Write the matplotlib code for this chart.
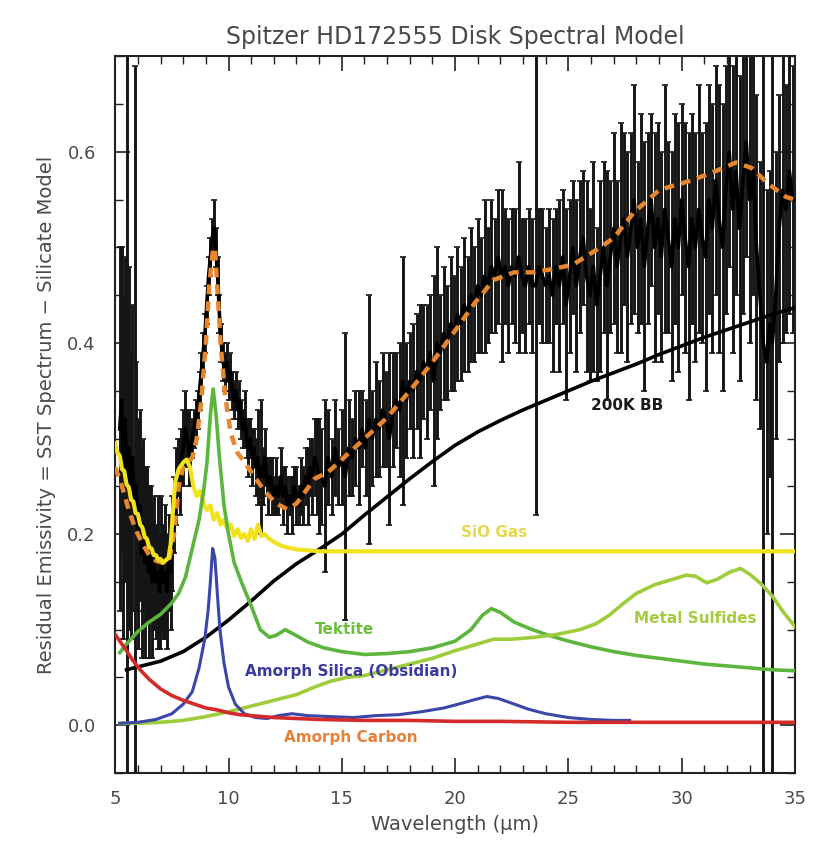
import matplotlib
matplotlib.use("Agg")
import matplotlib.pyplot as plt
from matplotlib.ticker import MultipleLocator, FormatStrFormatter

# ---------------- data: observed residual spectrum ----------------
wl_obs = [5.20, 5.28, 5.36, 5.44, 5.52, 5.60, 5.68, 5.76, 5.88, 5.92,
          6.00, 6.08, 6.16, 6.24, 6.32, 6.40, 6.48, 6.56, 6.64, 6.72,
          6.80, 6.88, 6.96, 7.04, 7.12, 7.20, 7.28, 7.36, 7.44, 7.52,
          7.60, 7.68, 7.76, 7.84, 7.92, 8.00, 8.08, 8.16, 8.24, 8.32,
          8.40, 8.48, 8.56, 8.64, 8.72, 8.80, 8.88, 8.96, 9.04, 9.12,
          9.20, 9.28, 9.36, 9.44, 9.52, 9.60, 9.68, 9.76, 9.84, 9.92,
          10.00, 10.08, 10.16, 10.24, 10.32, 10.40, 10.48, 10.56, 10.64, 10.72,
          10.80, 10.88, 10.96, 11.04, 11.12, 11.20, 11.28, 11.36, 11.44, 11.52,
          11.60, 11.68, 11.76, 11.84, 11.92, 12.00,
          12.1, 12.2, 12.3, 12.4, 12.5, 12.6, 12.7, 12.8, 12.9, 13.0,
          13.1, 13.2, 13.3, 13.4, 13.5, 13.6, 13.7, 13.8, 13.9, 14.0,
          14.10, 14.25, 14.40, 14.55, 14.70, 14.85, 15.00, 15.15, 15.30, 15.45,
          15.60, 15.75, 15.90, 16.05, 16.20, 16.35, 16.50, 16.65, 16.80, 16.95,
          17.10, 17.25, 17.40, 17.55, 17.70, 17.85, 18.00, 18.15, 18.30, 18.45,
          18.60, 18.75, 18.90, 19.05, 19.20, 19.35, 19.50, 19.65, 19.80, 19.95,
          20.10, 20.25, 20.40, 20.55, 20.70, 20.85, 21.00, 21.15, 21.30, 21.45,
          21.60, 21.75, 21.90, 22.05, 22.20, 22.35, 22.50, 22.65, 22.80, 22.95,
          23.10, 23.25, 23.40, 23.55, 23.70, 23.85, 24.00,
          24.15, 24.30, 24.45, 24.60, 24.75, 24.90, 25.05, 25.20, 25.35, 25.50,
          25.65, 25.80, 25.95, 26.10, 26.25, 26.40, 26.55, 26.70, 26.85, 27.00,
          27.15, 27.30, 27.45, 27.60, 27.75, 27.90, 28.05, 28.20, 28.35, 28.50,
          28.65, 28.80, 28.95, 29.10, 29.25, 29.40, 29.55, 29.70, 29.85, 30.00,
          30.15, 30.30, 30.45, 30.60, 30.75, 30.90, 31.05, 31.20, 31.35, 31.50,
          31.65, 31.80, 31.95, 32.10, 32.25, 32.40, 32.55, 32.70, 32.85, 33.00,
          33.15, 33.30, 33.45, 33.60, 33.75, 33.90, 34.00, 34.15, 34.30, 34.45,
          34.60, 34.75, 34.90]
flux_obs = [0.31, 0.34, 0.27, 0.32, 0.25, 0.29, 0.24, 0.28, 0.22, 0.25,
            0.20, 0.23, 0.18, 0.21, 0.17, 0.19, 0.16, 0.18, 0.15, 0.17,
            0.15, 0.16, 0.14, 0.17, 0.15, 0.16, 0.14, 0.17, 0.16, 0.19,
            0.22, 0.25, 0.27, 0.26, 0.28, 0.29, 0.31, 0.30, 0.29, 0.28,
            0.30, 0.31, 0.32, 0.33, 0.35, 0.37, 0.39, 0.41, 0.44, 0.47,
            0.49, 0.51, 0.52, 0.50, 0.47, 0.43, 0.40, 0.38, 0.37, 0.38,
            0.36, 0.37, 0.35, 0.34, 0.35, 0.33, 0.34, 0.32, 0.31, 0.32,
            0.30, 0.29, 0.30, 0.28, 0.29, 0.27, 0.28, 0.26, 0.27, 0.26,
            0.28, 0.26, 0.25, 0.26, 0.25, 0.24,
            0.25, 0.24, 0.26, 0.24, 0.25, 0.23, 0.24, 0.23, 0.25, 0.24,
            0.23, 0.25, 0.24, 0.26, 0.25, 0.27, 0.26, 0.28, 0.27, 0.26,
            0.26, 0.25, 0.28, 0.26, 0.29, 0.27, 0.28, 0.26, 0.29, 0.28,
            0.30, 0.29, 0.31, 0.29, 0.32, 0.30, 0.32, 0.31, 0.33, 0.32,
            0.30, 0.33, 0.34, 0.33, 0.36, 0.34, 0.36, 0.35, 0.37, 0.36,
            0.38, 0.37, 0.39, 0.36, 0.40, 0.39, 0.41, 0.40, 0.42, 0.41,
            0.43, 0.42, 0.44, 0.43, 0.45, 0.44, 0.46, 0.45, 0.47, 0.46,
            0.48, 0.47, 0.49, 0.47, 0.48, 0.46, 0.48, 0.47, 0.49, 0.47,
            0.46, 0.48, 0.46, 0.46, 0.48, 0.47, 0.46,
            0.47, 0.45, 0.48, 0.46, 0.49, 0.44, 0.47, 0.50, 0.46, 0.49,
            0.51, 0.47, 0.45, 0.48, 0.44, 0.47, 0.50, 0.46, 0.49, 0.52,
            0.48, 0.51, 0.53, 0.49, 0.52, 0.55, 0.50, 0.53, 0.48, 0.52,
            0.55, 0.50, 0.53, 0.49, 0.54, 0.51, 0.48, 0.53, 0.50, 0.55,
            0.51, 0.48, 0.53, 0.50, 0.54, 0.51, 0.49, 0.55, 0.52, 0.57,
            0.53, 0.50, 0.56, 0.60, 0.54, 0.58, 0.52, 0.57, 0.61, 0.55,
            0.58, 0.50, 0.45, 0.40, 0.38, 0.42, 0.40, 0.45, 0.52, 0.56,
            0.54, 0.58, 0.55]
err_obs = [0.19, 0.16, 0.18, 0.17, 0.47, 0.19, 0.15, 0.16, 0.47, 0.13,
           0.12, 0.10, 0.11, 0.09, 0.10, 0.08, 0.09, 0.07, 0.08, 0.07,
           0.06, 0.08, 0.06, 0.07, 0.06, 0.07, 0.06, 0.05, 0.06, 0.05,
           0.04, 0.04, 0.03, 0.04, 0.03, 0.04, 0.04, 0.03, 0.04, 0.03,
           0.02, 0.02, 0.02, 0.02, 0.02, 0.02, 0.02, 0.02, 0.02, 0.02,
           0.02, 0.02, 0.03, 0.02, 0.02, 0.02, 0.02, 0.02, 0.02, 0.02,
           0.02, 0.02, 0.02, 0.02, 0.02, 0.02, 0.02, 0.02, 0.02, 0.03,
           0.02, 0.03, 0.02, 0.03, 0.02, 0.03, 0.05, 0.02, 0.07, 0.03,
           0.03, 0.02, 0.03, 0.02, 0.03, 0.02,
           0.03, 0.02, 0.03, 0.03, 0.02, 0.03, 0.02, 0.03, 0.02, 0.03,
           0.02, 0.03, 0.03, 0.03, 0.04, 0.03, 0.04, 0.04, 0.05, 0.06,
           0.05, 0.09, 0.05, 0.04, 0.05, 0.04, 0.05, 0.15, 0.05, 0.04,
           0.05, 0.06, 0.04, 0.05, 0.13, 0.05, 0.06, 0.05, 0.06, 0.05,
           0.09, 0.06, 0.05, 0.07, 0.13, 0.06, 0.05, 0.07, 0.06, 0.08,
           0.06, 0.07, 0.06, 0.11, 0.10, 0.06, 0.07, 0.06, 0.07, 0.06,
           0.07, 0.06, 0.07, 0.06, 0.07, 0.06, 0.07, 0.06, 0.08, 0.06,
           0.07, 0.06, 0.07, 0.09, 0.06, 0.07, 0.06, 0.07, 0.10, 0.06,
           0.07, 0.06, 0.07, 0.24, 0.06, 0.07, 0.06,
           0.07, 0.08, 0.06, 0.09, 0.07, 0.10, 0.08, 0.07, 0.09, 0.08,
           0.07, 0.10, 0.09, 0.11, 0.08, 0.10, 0.09, 0.12, 0.08, 0.10,
           0.09, 0.12, 0.09, 0.11, 0.10, 0.12, 0.09, 0.11, 0.13, 0.10,
           0.09, 0.12, 0.10, 0.11, 0.13, 0.10, 0.12, 0.11, 0.13, 0.10,
           0.12, 0.14, 0.11, 0.12, 0.13, 0.11, 0.14, 0.12, 0.13, 0.12,
           0.14, 0.15, 0.13, 0.12, 0.15, 0.13, 0.16, 0.14, 0.12, 0.15,
           0.13, 0.16, 0.14, 0.47, 0.18, 0.16, 0.46, 0.15, 0.14, 0.16,
           0.13, 0.15, 0.14]

# ---------------- total model (orange dashed) ----------------
wl_model = [5.0, 5.3, 5.6, 5.9, 6.2, 6.5, 6.8, 7.1, 7.4, 7.6, 7.8, 8.0, 8.2, 8.4,
            8.6, 8.8, 9.0, 9.15, 9.3, 9.4, 9.5, 9.65, 9.85, 10.1, 10.4, 10.8,
            11.2, 11.6, 12.1, 12.6, 13.0, 13.4, 13.8, 14.4, 15.0, 16.0, 17.0,
            18.0, 19.0, 20.0, 20.9, 21.7, 22.6, 23.4, 24.2, 25.2, 26.4, 27.0,
            27.9, 29.0, 29.4, 30.4, 31.3, 32.4, 33.1, 33.8, 34.6, 35.0]
flux_model = [0.27, 0.25, 0.225, 0.205, 0.19, 0.178, 0.172, 0.17, 0.175, 0.20,
              0.25, 0.27, 0.275, 0.28, 0.30, 0.34, 0.40, 0.46, 0.495, 0.50,
              0.46, 0.40, 0.345, 0.305, 0.285, 0.272, 0.258, 0.245, 0.232,
              0.226, 0.232, 0.245, 0.258, 0.265, 0.278, 0.30, 0.322, 0.35,
              0.38, 0.413, 0.443, 0.466, 0.474, 0.474, 0.477, 0.482, 0.50,
              0.51, 0.537, 0.56, 0.563, 0.57, 0.578, 0.589, 0.583, 0.567,
              0.553, 0.55]

# ---------------- 200 K blackbody ----------------
wl_bb = [5.5, 6, 7, 8, 9, 10, 11, 12, 13, 14, 15, 16, 17, 18, 19, 20, 21, 22,
         23, 24, 25, 26, 27, 28, 29, 30, 31, 32, 33, 34, 35]
flux_bb = [0.058, 0.061, 0.067, 0.077, 0.092, 0.110, 0.130, 0.151, 0.169,
           0.184, 0.200, 0.220, 0.239, 0.258, 0.276, 0.293, 0.307, 0.319,
           0.330, 0.340, 0.350, 0.360, 0.369, 0.378, 0.388, 0.397, 0.406,
           0.414, 0.422, 0.430, 0.437]

# ---------------- SiO gas ----------------
wl_sio = [5.0, 5.1, 5.2, 5.3, 5.4, 5.5, 5.6, 5.7, 5.8, 5.9, 6.0, 6.1, 6.2, 6.3,
          6.4, 6.5, 6.6, 6.7, 6.8, 6.9, 7.0, 7.1, 7.2, 7.35, 7.45, 7.55, 7.65,
          7.8, 8.0, 8.15, 8.3, 8.45, 8.6, 8.75, 8.9, 9.05, 9.2, 9.35, 9.5,
          9.65, 9.8, 9.95, 10.1, 10.25, 10.4, 10.55, 10.7, 10.85, 11.0, 11.15,
          11.3, 11.45, 11.6, 11.8, 12.0, 12.3, 12.6, 13.0, 13.5, 14.0, 20.0,
          35.0]
flux_sio = [0.295, 0.285, 0.282, 0.268, 0.266, 0.252, 0.249, 0.236, 0.234,
            0.222, 0.221, 0.210, 0.207, 0.197, 0.195, 0.186, 0.185, 0.178,
            0.178, 0.173, 0.174, 0.170, 0.172, 0.175, 0.19, 0.225, 0.255,
            0.268, 0.275, 0.278, 0.27, 0.25, 0.24, 0.245, 0.232, 0.225, 0.23,
            0.215, 0.222, 0.21, 0.215, 0.205, 0.21, 0.198, 0.205, 0.196, 0.20,
            0.193, 0.205, 0.195, 0.21, 0.198, 0.20, 0.195, 0.192, 0.188,
            0.186, 0.184, 0.183, 0.182, 0.182, 0.182]

# ---------------- Tektite ----------------
wl_tek = [5.2, 5.5, 6.0, 6.5, 7.0, 7.5, 7.8, 8.1, 8.4, 8.7, 8.9, 9.05, 9.2,
          9.32, 9.45, 9.6, 9.8, 10.0, 10.25, 10.6, 11.0, 11.4, 11.8, 12.1,
          12.5, 12.9, 13.5, 14.2, 15.0, 16.0, 17.0, 18.0, 19.0, 20.0, 20.7,
          21.2, 21.6, 22.0, 22.6, 23.3, 24.0, 25.0, 26.0, 27.0, 28.0, 29.0,
          30.0, 31.0, 32.0, 33.0, 34.0, 35.0]
flux_tek = [0.076, 0.085, 0.098, 0.108, 0.116, 0.128, 0.138, 0.155, 0.185,
            0.215, 0.245, 0.275, 0.325, 0.352, 0.325, 0.28, 0.23, 0.20, 0.17,
            0.148, 0.125, 0.10, 0.092, 0.094, 0.10, 0.095, 0.087, 0.081,
            0.077, 0.074, 0.075, 0.077, 0.081, 0.088, 0.10, 0.115, 0.122,
            0.118, 0.108, 0.101, 0.095, 0.088, 0.082, 0.077, 0.073, 0.070,
            0.067, 0.064, 0.062, 0.060, 0.058, 0.057]

# ---------------- Metal sulfides ----------------
wl_sulf = [5.2, 6.0, 7.0, 8.0, 9.0, 10.0, 11.0, 12.0, 13.0, 13.8, 14.5, 15.2,
           16.0, 17.0, 18.0, 19.0, 20.0, 21.0, 21.7, 22.5, 23.5, 24.5, 25.5,
           26.2, 26.8, 27.4, 28.0, 28.8, 29.5, 30.2, 30.6, 31.1, 31.6, 32.1,
           32.6, 33.0, 33.5, 34.0, 34.5, 35.0]
flux_sulf = [0.002, 0.002, 0.003, 0.005, 0.009, 0.014, 0.020, 0.026, 0.032,
             0.040, 0.046, 0.050, 0.052, 0.058, 0.064, 0.070, 0.078, 0.085,
             0.090, 0.090, 0.092, 0.095, 0.100, 0.106, 0.115, 0.127, 0.138,
             0.147, 0.152, 0.157, 0.156, 0.149, 0.153, 0.160, 0.164, 0.158,
             0.148, 0.135, 0.118, 0.103]

# ---------------- Amorphous silica (obsidian) ----------------
wl_sil = [5.2, 6.0, 6.8, 7.5, 8.0, 8.4, 8.7, 8.95, 9.1, 9.2, 9.3, 9.4, 9.5,
          9.62, 9.8, 10.0, 10.3, 10.7, 11.2, 11.7, 12.2, 12.8, 13.5, 14.5,
          15.5, 16.5, 17.5, 18.5, 19.5, 20.3, 20.9, 21.4, 21.9, 22.5, 23.2,
          24.0, 25.0, 26.0, 27.0, 27.7]
flux_sil = [0.002, 0.003, 0.006, 0.012, 0.022, 0.035, 0.060, 0.090, 0.120,
            0.150, 0.185, 0.175, 0.140, 0.100, 0.065, 0.040, 0.022, 0.012,
            0.008, 0.007, 0.010, 0.012, 0.010, 0.009, 0.008, 0.010, 0.011,
            0.014, 0.018, 0.023, 0.027, 0.030, 0.028, 0.023, 0.017, 0.012,
            0.008, 0.006, 0.005, 0.005]

# ---------------- Amorphous carbon ----------------
wl_carb = [5.0, 5.2, 5.5, 5.8, 6.1, 6.5, 7.0, 7.5, 8.0, 8.5, 9.0, 9.5, 10.0,
           10.5, 11.0, 12.0, 13.0, 14.0, 16.0, 18.0, 20.0, 22.0, 25.0, 30.0,
           35.0]
flux_carb = [0.095, 0.088, 0.078, 0.067, 0.058, 0.048, 0.038, 0.031, 0.026,
             0.022, 0.018, 0.016, 0.013, 0.011, 0.010, 0.008, 0.007, 0.006,
             0.005, 0.005, 0.004, 0.004, 0.003, 0.003, 0.003]

title = "Spitzer HD172555 Disk Spectral Model"
xlabel = "Wavelength (\u00b5m)"
ylabel = "Residual Emissivity = SST Spectrum \u2212 Silicate Model"

# ---------------- figure ----------------
TXT = "#4a4a4a"
fig = plt.figure(figsize=(8.23, 8.42), dpi=100)
ax = fig.add_axes([0.140, 0.082, 0.826, 0.851])

ax.errorbar(wl_obs, flux_obs, yerr=err_obs, fmt="none", ecolor="#151515",
            elinewidth=2.1, capsize=2.5, capthick=1.2, zorder=2)
ax.plot(wl_obs, flux_obs, color="black", lw=2.6, zorder=3)

ax.plot(wl_model, flux_model, color="#E8862E", lw=3.2,
        dashes=(2.2, 1.6), zorder=5)
ax.plot(wl_bb, flux_bb, color="black", lw=2.6, zorder=4)
ax.plot(wl_sio, flux_sio, color="#F2E21E", lw=3.0, zorder=6)
ax.plot(wl_tek, flux_tek, color="#5CB53C", lw=2.6, zorder=6)
ax.plot(wl_sulf, flux_sulf, color="#9FCC3A", lw=2.6, zorder=6)
ax.plot(wl_sil, flux_sil, color="#3A47A8", lw=2.2, zorder=6)
ax.plot(wl_carb, flux_carb, color="#D42A2A", lw=2.6, zorder=6)

lab_kw = dict(fontsize=11, fontweight="bold", ha="center", va="center",
              zorder=8)
ax.text(27.6, 0.335, "200K BB", color="#1a1a1a", **lab_kw)
ax.text(21.7, 0.202, "SiO Gas", color="#E6D84E", **lab_kw)
ax.text(15.1, 0.100, "Tektite", color="#6BBF3A", **lab_kw)
ax.text(30.6, 0.112, "Metal Sulfides", color="#A4CC3C", **lab_kw)
ax.text(15.4, 0.056, "Amorph Silica (Obsidian)", color="#3A3AA0", **lab_kw)
ax.text(15.4, -0.013, "Amorph Carbon", color="#E8803A", **lab_kw)

ax.set_xlim(5, 35)
ax.set_ylim(-0.05, 0.7)
ax.xaxis.set_major_locator(MultipleLocator(5))
ax.xaxis.set_minor_locator(MultipleLocator(1))
ax.yaxis.set_major_locator(MultipleLocator(0.2))
ax.yaxis.set_minor_locator(MultipleLocator(0.05))
ax.yaxis.set_major_formatter(FormatStrFormatter("%.1f"))
ax.tick_params(which="both", direction="in", top=True, right=True,
               colors="#222222", labelcolor=TXT, labelsize=13)
ax.tick_params(which="major", length=11, width=1.2)
ax.tick_params(which="minor", length=6, width=1.0)
ax.tick_params(axis="x", which="major", pad=12)
ax.tick_params(axis="y", which="major", pad=14)
for s in ax.spines.values():
    s.set_linewidth(1.5)
    s.set_color("#222222")

ax.set_title(title, color=TXT, fontsize=17, pad=9)
ax.set_xlabel(xlabel, color=TXT, fontsize=14, labelpad=5)
ax.set_ylabel(ylabel, color=TXT, fontsize=14, labelpad=8)

fig.savefig("out.png", dpi=100, facecolor="white")
